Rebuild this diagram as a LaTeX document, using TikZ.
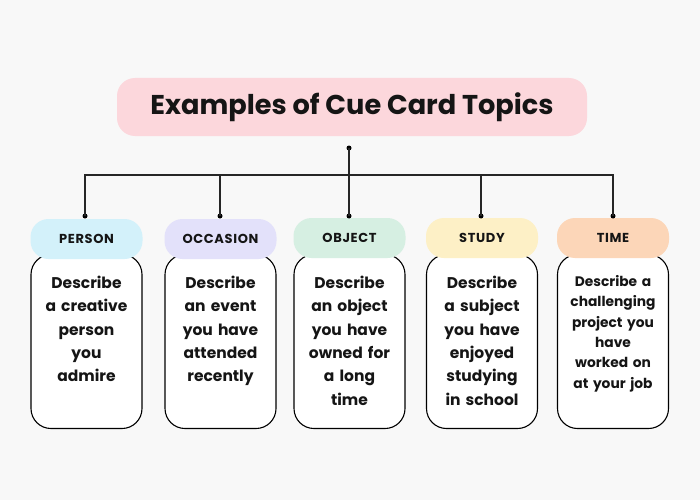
\documentclass[tikz,border=0pt]{standalone}
\usepackage{fontspec}
\setmainfont{Poppins}
\newfontfamily\labelfont[LetterSpace=5]{Poppins}
\usetikzlibrary{positioning}
\definecolor{bgc}{HTML}{F8F8F8}
\definecolor{titlec}{HTML}{FCD7DC}
\definecolor{personc}{HTML}{D3F1FA}
\definecolor{occc}{HTML}{E3E1FA}
\definecolor{objc}{HTML}{D6EFE2}
\definecolor{studyc}{HTML}{FDF0C6}
\definecolor{timec}{HTML}{FCD6B8}
\definecolor{inkc}{HTML}{151515}
\tikzset{
  titlebox/.style={fill=titlec, rounded corners=18pt, minimum width=470pt, minimum height=58pt, inner sep=0pt, text=inkc, font=\fontsize{27.2}{30}\selectfont\bfseries},
  card/.style={draw=black, line width=1.1pt, fill=white, rounded corners=20pt, minimum width=111pt, minimum height=174pt, inner sep=0pt},
  pill/.style={rounded corners=18pt, minimum width=112pt, minimum height=40pt, inner sep=0pt, text=inkc, font=\labelfont\fontsize{13}{15}\selectfont\bfseries},
  cardtext/.style={anchor=north, align=center, text width=106pt, inner sep=0pt, text=inkc, font=\fontsize{15.5}{23.3}\selectfont\bfseries},
  cardtextsmall/.style={anchor=north, align=center, text width=106pt, inner sep=0pt, text=inkc, font=\fontsize{13.8}{20.4}\selectfont\bfseries},
  wire/.style={line width=1.1pt, draw=black!85},
  dot/.style={circle, fill=black, inner sep=0pt, minimum size=5pt}
}
\begin{document}
\begin{tikzpicture}[x=1pt,y=-1pt]
\useasboundingbox[fill=bgc] (0,0) rectangle (700,500);
\node[titlebox] (title) at (352,107) {Examples of Cue Card Topics};
% cards
\node[card] (c1) at (86.5,341.5) {};
\node[card] (c2) at (220.5,341.5) {};
\node[card] (c3) at (349.5,341.5) {};
\node[card] (c4) at (482,341.5) {};
\node[card] (c5) at (613,341.5) {};
% pills
\node[pill, fill=personc] (p1) at (86.5,239) {PERSON};
\node[pill, fill=occc] (p2) at (220.5,239) {OCCASION};
\node[pill, fill=objc] (p3) at (349.5,238) {OBJECT};
\node[pill, fill=studyc] (p4) at (482,238) {STUDY};
\node[pill, fill=timec] (p5) at (613,238) {TIME};
% card texts
\node[cardtext] (t1) at (86.5,276) {Describe\\a creative\\person\\you\\admire};
\node[cardtext] (t2) at (220.5,276) {Describe\\an event\\you have\\attended\\recently};
\node[cardtext] (t3) at (349.5,276) {Describe\\an object\\you have\\owned for\\a long\\time};
\node[cardtext] (t4) at (482,276) {Describe\\a subject\\you have\\enjoyed\\studying\\in school};
\node[cardtextsmall] (t5) at (613,275) {Describe a\\challenging\\project you\\have\\worked on\\at your job};
% connectors
\node[dot] (top) at (349,148) {};
\coordinate (bus) at (349,175);
\node[dot] (d1) at (85,216) {};
\node[dot] (d2) at (220,216) {};
\node[dot] (d3) at (349,216) {};
\node[dot] (d4) at (481,216) {};
\node[dot] (d5) at (613,216) {};
\draw[wire] (top.center) -- (d3.center);
\draw[wire] (d1.center) -- (d1.center |- bus) -- (d5.center |- bus) -- (d5.center);
\draw[wire] (d2.center) -- (d2.center |- bus);
\draw[wire] (d4.center) -- (d4.center |- bus);
\end{tikzpicture}
\end{document}
